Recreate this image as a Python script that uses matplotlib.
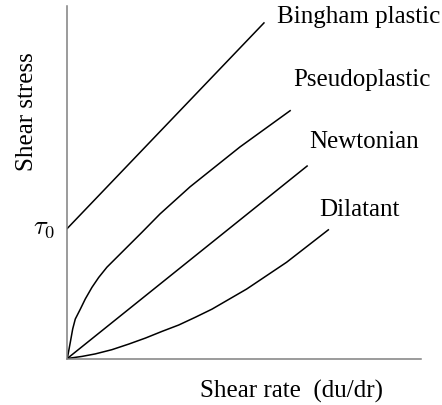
import matplotlib
matplotlib.use("Agg")
import matplotlib.pyplot as plt

# ----------------------------------------------------------------
# values (arbitrary units, 0-100 on both axes)

bingham_x = [0.0, 55.6]
bingham_y = [36.9, 95.2]

newtonian_x = [0.0, 67.8]
newtonian_y = [0.0, 54.6]

pseudo_x = [0.0, 0.85, 1.53, 2.26, 3.68, 5.09, 6.98, 8.88, 11.2, 14.5, 17.8, 21.1,
            26.2, 34.7, 48.8, 63.0]
pseudo_y = [0.0, 4.6, 8.4, 11.2, 14.0, 16.9, 20.2, 23.0, 25.9, 29.2, 32.5, 35.8,
            41.0, 48.7, 60.0, 70.3]

dilatant_x = [0.0, 4.2, 7.9, 12.6, 17.4, 22.1, 26.8, 31.5, 36.2, 40.9, 50.7, 62.0, 73.8]
dilatant_y = [0.0, 0.6, 1.3, 2.5, 4.1, 5.8, 7.7, 9.5, 11.7, 14.0, 19.7, 27.3, 36.5]

curve_labels = ["Bingham plastic", "Pseudoplastic", "Newtonian", "Dilatant"]
label_x = [59.3, 64.0, 68.4, 71.2]
label_y = [95.4, 77.6, 60.0, 40.7]

# ----------------------------------------------------------------

plt.rcParams['font.family'] = ['Liberation Serif', 'DejaVu Serif']
plt.rcParams['mathtext.fontset'] = 'cm'

fig = plt.figure(figsize=(4.42, 4.06), dpi=100)
ax = fig.add_axes([67.3/442, (406-359.5)/406, 353.7/442, 352.5/406])

lw = 1.1
ax.plot(bingham_x, bingham_y, color='black', lw=lw)
ax.plot(pseudo_x, pseudo_y, color='black', lw=lw)
ax.plot(newtonian_x, newtonian_y, color='black', lw=lw)
ax.plot(dilatant_x, dilatant_y, color='black', lw=lw)

for i in range(len(curve_labels)):
    ax.text(label_x[i], label_y[i], curve_labels[i], fontsize=18,
            ha='left', va='baseline', clip_on=False)

ax.text(-3.4, bingham_y[0], r'$\tau_0$', fontsize=19, ha='right', va='center')

ax.text(37.5, -10.9, 'Shear rate  (du/dr)', fontsize=18, ha='left', va='baseline')
ax.text(-9.7, 70.4, 'Shear stress', fontsize=18, rotation=90,
        rotation_mode='anchor', ha='center', va='baseline')

ax.set_xlim(0, 100)
ax.set_ylim(0, 100)
ax.set_xticks([])
ax.set_yticks([])
for side in ['top', 'right']:
    ax.spines[side].set_visible(False)
for side in ['left', 'bottom']:
    ax.spines[side].set_color('#808080')
    ax.spines[side].set_linewidth(1.1)

fig.savefig('out.png', dpi=100)
